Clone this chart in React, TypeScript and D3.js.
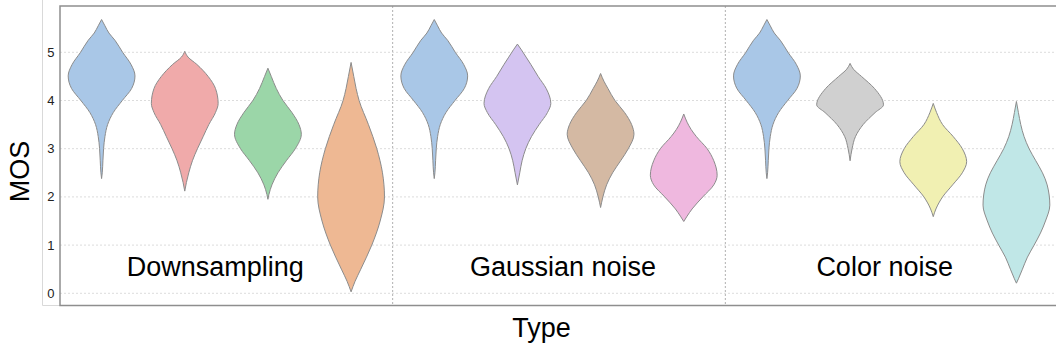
import React from "react";
import * as d3 from "d3";

const categories = [
  "DS-1", "DS-2", "DS-3", "DS-4",
  "GN-1", "GN-2", "GN-3", "GN-4",
  "CN-1", "CN-2", "CN-3", "CN-4",
];
const groupLabels = ["Downsampling", "Gaussian noise", "Color noise"];
const yTicks = [0, 1, 2, 3, 4, 5];
const fills = [
  "#a9c7e7", "#f0aaaa", "#9bd6a8", "#eeb893",
  "#a9c7e7", "#d4c4f1", "#d4b9a3", "#efb8df",
  "#a9c7e7", "#d0d0d0", "#f1f0b2", "#c0e7e7",
];

// [MOS, relative half-width] profiles
const vBlue: [number, number][] = [
  [5.68, 0], [5.55, 0.1], [5.4, 0.22], [5.25, 0.4], [5.0, 0.63], [4.75, 0.88], [4.51, 1.0],
  [4.25, 0.9], [4.0, 0.62], [3.75, 0.35], [3.5, 0.18], [3.25, 0.1], [3.0, 0.06], [2.75, 0.04], [2.5, 0.02], [2.38, 0],
];
const vRed: [number, number][] = [
  [5.02, 0], [4.9, 0.1], [4.75, 0.36], [4.5, 0.7], [4.25, 0.92], [3.94, 1.0], [3.75, 0.92],
  [3.5, 0.72], [3.25, 0.55], [3.0, 0.38], [2.75, 0.23], [2.5, 0.12], [2.3, 0.05], [2.12, 0],
];
const vGreen: [number, number][] = [
  [4.67, 0], [4.5, 0.1], [4.25, 0.25], [4.0, 0.45], [3.75, 0.72], [3.5, 0.93], [3.3, 1.0],
  [3.0, 0.82], [2.75, 0.55], [2.5, 0.3], [2.25, 0.12], [2.05, 0.03], [1.95, 0],
];
const vOrange: [number, number][] = [
  [4.79, 0], [4.5, 0.08], [4.25, 0.15], [4.0, 0.24], [3.5, 0.52], [3.0, 0.77], [2.5, 0.94],
  [2.0, 1.0], [1.5, 0.87], [1.0, 0.62], [0.5, 0.29], [0.25, 0.12], [0.03, 0],
];
const vPurple: [number, number][] = [
  [5.17, 0], [5.05, 0.12], [4.9, 0.26], [4.75, 0.4], [4.5, 0.62], [4.25, 0.86], [3.94, 1.0], [3.75, 0.9],
  [3.5, 0.65], [3.25, 0.42], [3.0, 0.25], [2.75, 0.14], [2.5, 0.07], [2.25, 0],
];
const vBrown: [number, number][] = [
  [4.56, 0], [4.4, 0.1], [4.25, 0.22], [4.0, 0.43], [3.75, 0.72], [3.5, 0.93], [3.3, 1.0],
  [3.0, 0.83], [2.75, 0.6], [2.5, 0.36], [2.25, 0.18], [2.0, 0.07], [1.78, 0],
];
const vPink: [number, number][] = [
  [3.72, 0], [3.55, 0.1], [3.4, 0.22], [3.25, 0.38], [3.0, 0.7], [2.75, 0.9], [2.45, 1.0], [2.25, 0.9],
  [2.0, 0.57], [1.75, 0.25], [1.6, 0.1], [1.49, 0],
];
const vGray: [number, number][] = [
  [4.77, 0], [4.65, 0.1], [4.5, 0.34], [4.25, 0.73], [3.91, 1.0], [3.75, 0.75],
  [3.5, 0.39], [3.25, 0.16], [3.0, 0.06], [2.75, 0],
];
const vYellow: [number, number][] = [
  [3.94, 0], [3.75, 0.1], [3.5, 0.28], [3.25, 0.6], [3.0, 0.87], [2.73, 1.0], [2.5, 0.87],
  [2.25, 0.58], [2.0, 0.28], [1.75, 0.08], [1.59, 0],
];
const vTeal: [number, number][] = [
  [3.98, 0], [3.75, 0.06], [3.5, 0.13], [3.25, 0.23], [3.0, 0.38], [2.75, 0.58], [2.5, 0.78],
  [2.25, 0.92], [1.83, 1.0], [1.5, 0.87], [1.25, 0.72], [1.0, 0.53], [0.75, 0.33], [0.5, 0.18], [0.3, 0.06], [0.21, 0],
];
const profiles = [
  vBlue, vRed, vGreen, vOrange,
  vBlue, vPurple, vBrown, vPink,
  vBlue, vGray, vYellow, vTeal,
];

const W = 1056;
const H = 353;
const plotLeft = 60;
const plotRight = 1058;
const plotTop = 6;
const plotBottom = 305.5;

export default function App() {
  const x = d3.scaleBand<string>().domain(categories).range([plotLeft, plotRight]).padding(0);
  const y = d3.scaleLinear().domain([0, 5]).range([293.3, 52.3]);
  const halfW = 33.4;
  const font = "Liberation Sans, Arial, Helvetica, sans-serif";

  const groupSize = 4;
  const groups = groupLabels.map((g, i) => {
    const first = x(categories[i * groupSize])!;
    const last = x(categories[i * groupSize + groupSize - 1])! + x.bandwidth();
    return { label: g, start: first, end: last };
  });
  const labelOffsets = [-11, 4, -7];

  return (
    <svg width={W} height={H} style={{ position: "absolute", left: 0, top: 0, background: "#fff" }}>
      {/* outer light axis line */}
      <path d={`M42.5,0 V305.5 H${plotLeft}`} fill="none" stroke="#d9d9d9" strokeWidth={1} />
      {/* gridlines */}
      {yTicks.map((t) => (
        <line key={t} x1={plotLeft} x2={plotRight} y1={y(t)} y2={y(t)} stroke="#dcdcdc" strokeWidth={1} strokeDasharray="2,2" />
      ))}
      {/* group separators */}
      {groups.slice(1).map((g, i) => (
        <line key={i} x1={g.start} x2={g.start} y1={plotTop} y2={plotBottom} stroke="#b0b0b0" strokeWidth={1} strokeDasharray="2,2" />
      ))}
      {/* violins */}
      {categories.map((c, i) => {
        const cx = x(c)! + x.bandwidth() / 2;
        const area = d3
          .area<[number, number]>()
          .y((d) => y(d[0]))
          .x0((d) => cx - d[1] * halfW)
          .x1((d) => cx + d[1] * halfW)
          .curve(d3.curveMonotoneY);
        return (
          <path key={c} d={area(profiles[i]) || ""} fill={fills[i]} stroke="#8c8c8c" strokeWidth={1} />
        );
      })}
      {/* group labels */}
      {groups.map((g, i) => (
        <text key={g.label} x={(g.start + g.end) / 2 + labelOffsets[i]} y={275.5} textAnchor="middle" fontFamily={font} fontSize={27} fill="#000">
          {g.label}
        </text>
      ))}
      {/* frame */}
      <rect x={plotLeft} y={plotTop} width={plotRight - plotLeft} height={plotBottom - plotTop} fill="none" stroke="#8e8e8e" strokeWidth={1.5} />
      {/* y ticks */}
      {yTicks.map((t) => (
        <text key={t} x={54.5} y={y(t) + 4.5} textAnchor="end" fontFamily={font} fontSize={13} fill="#222">
          {t}
        </text>
      ))}
      <text transform={`translate(28.5,171.5) rotate(-90)`} textAnchor="middle" fontFamily={font} fontSize={27} fill="#000">
        MOS
      </text>
      <text x={541.5} y={337} textAnchor="middle" fontFamily={font} fontSize={27} fill="#000">
        Type
      </text>
    </svg>
  );
}
